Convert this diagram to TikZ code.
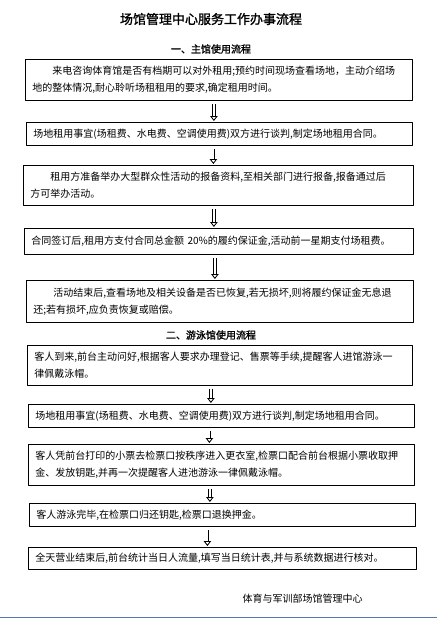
\documentclass[tikz,border=0pt]{standalone}
\usepackage{fontspec}
\setmainfont{Noto Sans CJK SC}
\newfontfamily\headfont[FakeBold=1.5]{Noto Sans CJK SC}
\usetikzlibrary{arrows.meta}
\definecolor{rulecol}{RGB}{88,120,172}

\begin{document}
\begin{tikzpicture}[x=1pt,y=-1pt,line join=round,
	box/.style={draw, line width=0.8pt, anchor=north west, inner xsep=7pt, inner ysep=0pt, align=left, font=\fontsize{10pt}{16.7pt}\selectfont},
	flow/.style={double, double distance=2pt, line width=0.85pt, -{Triangle[open,length=5pt,width=7.5pt]}, shorten <=3pt, shorten >=1pt}]
			\useasboundingbox (0,0) rectangle (437,619);
			%titres
			\node[font=\headfont\fontsize{13pt}{13pt}\selectfont] (titre) at (211,19) {场馆管理中心服务工作办事流程};
			\node[font=\headfont\fontsize{10pt}{10pt}\selectfont] (sec1) at (211,49) {一、主馆使用流程};
			\node[font=\headfont\fontsize{10pt}{10pt}\selectfont] (sec2) at (211,335) {二、游泳馆使用流程};
			%主馆
			\node[box, text width=373pt, minimum height=41pt] (b1) at (25,59) {\hspace*{2em}来电咨询体育馆是否有档期可以对外租用;预约时间现场查看场地，主动介绍场\\地的整体情况,耐心聆听场租租用的要求,确定租用时间。};
			\node[box, text width=372pt, minimum height=23pt] (b2) at (26,122) {场地租用事宜(场租费、水电费、空调使用费)双方进行谈判,制定场地租用合同。};
			\node[box, text width=376pt, minimum height=40pt] (b3) at (23,165) {\hspace*{2em}租用方准备举办大型群众性活动的报备资料,至相关部门进行报备,报备通过后\\方可举办活动。};
			\node[box, text width=375pt, minimum height=26pt] (b4) at (24,228) {合同签订后,租用方支付合同总金额 20\%的履约保证金,活动前一星期支付场租费。};
			\node[box, text width=373pt, minimum height=42pt] (b5) at (26,280) {\hspace*{2em}活动结束后,查看场地及相关设备是否已恢复,若无损坏,则将履约保证金无息退\\还;若有损坏,应负责恢复或赔偿。};
			%游泳馆
			\node[box, text width=371pt, minimum height=40pt] (b6) at (27,345) {客人到来,前台主动问好,根据客人要求办理登记、售票等手续,提醒客人进馆游泳一\\律佩戴泳帽。};
			\node[box, text width=372pt, minimum height=23pt] (b7) at (28,404) {场地租用事宜(场租费、水电费、空调使用费)双方进行谈判,制定场地租用合同。};
			\node[box, text width=372pt, minimum height=41pt] (b8) at (28,444) {客人凭前台打印的小票去检票口按秩序进入更衣室,检票口配合前台根据小票收取押\\金、发放钥匙,并再一次提醒客人进池游泳一律佩戴泳帽。};
			\node[box, text width=372pt, minimum height=23pt] (b9) at (29,503) {客人游泳完毕,在检票口归还钥匙,检票口退换押金。};
			\node[box, text width=374pt, minimum height=22pt] (b10) at (28,547) {全天营业结束后,前台统计当日人流量,填写当日统计表,并与系统数据进行核对。};
			%flèches
			\coordinate (f1) at ([xshift=-5pt]b1.south);
			\coordinate (f2) at ([xshift=-6pt]b2.south);
			\coordinate (f3) at ([xshift=-4.5pt]b3.south);
			\coordinate (f4) at ([xshift=-4pt]b4.south);
			\coordinate (f6) at ([xshift=-9pt]b6.south);
			\coordinate (f7) at ([xshift=-12pt]b7.south);
			\coordinate (f8) at ([xshift=-11.5pt]b8.south);
			\coordinate (f9) at ([xshift=-15pt]b9.south);
			\draw[flow] (f1) -- (f1 |- b2.north);
			\draw[flow] (f2) -- (f2 |- b3.north);
			\draw[flow] (f3) -- (f3 |- b4.north);
			\draw[flow] (f4) -- (f4 |- b5.north);
			\draw[flow] (f6) -- (f6 |- b7.north);
			\draw[flow] (f7) -- (f7 |- b8.north);
			\draw[flow] (f8) -- (f8 |- b9.north);
			\draw[flow] (f9) -- (f9 |- b10.north);
			%signature
			\node[font=\fontsize{10pt}{10pt}\selectfont] (signe) at (302.5,599) {体育与军训部场馆管理中心};
			\draw[rulecol, line width=1pt] (0,617) -- (437,617);
\end{tikzpicture}
\end{document}
